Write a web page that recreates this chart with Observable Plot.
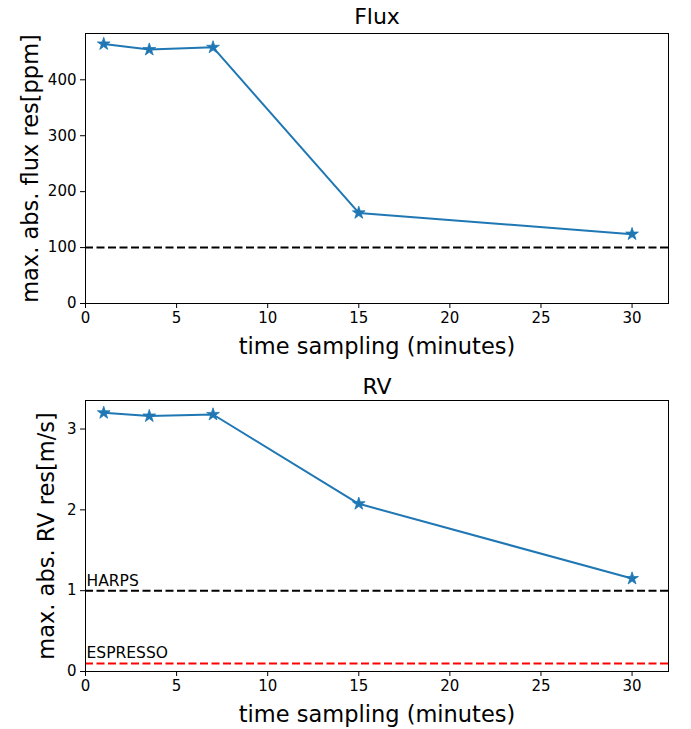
<!DOCTYPE html>
<html>
<head>
<meta charset="utf-8">
<script src="https://cdn.jsdelivr.net/npm/d3@7"></script>
<script src="https://cdn.jsdelivr.net/npm/@observablehq/plot@0.6"></script>
<style>
  body { margin: 0; background: white; }
  #chart svg { display: block; overflow: visible; }
</style>
</head>
<body>
<div id="chart"></div>
<script>
const times = [1, 3.5, 7, 15, 30];
const fluxRes = [464, 454, 458, 162, 124];
const rvRes = [3.20, 3.16, 3.18, 2.075, 1.15];
const fluxLimit = 100;
const instrumentNames = ["HARPS", "ESPRESSO"];
const instrumentLimits = [1, 0.1];
const xTicks = [0, 5, 10, 15, 20, 25, 30];
const fluxTicks = [0, 100, 200, 300, 400];
const rvTicks = [0, 1, 2, 3];

const fluxData = times.map((t, i) => ({t, v: fluxRes[i]}));
const rvData = times.map((t, i) => ({t, v: rvRes[i]}));
const instData = instrumentNames.map((n, i) => ({name: n, v: instrumentLimits[i]}));

const blue = "#1f77b4";
const font = "DejaVu Sans, sans-serif";

function panel({title, data, yDomain, yTicks, yLabel, ylabelDx, rules, marginTop, marginBottom, height, titleDy}) {
  return Plot.plot({
    width: 691,
    height,
    marginLeft: 85,
    marginRight: 23,
    marginTop,
    marginBottom,
    style: {fontFamily: font, color: "black", background: "white"},
    x: {domain: [0, 32]},
    y: {domain: yDomain},
    marks: [
      ...rules,
      Plot.line(data, {x: "t", y: "v", stroke: blue, strokeWidth: 2}),
      Plot.dot(data, {x: "t", y: "v", symbol: "star", r: 4, fill: blue, stroke: blue, strokeWidth: 0.8}),
      Plot.frame({stroke: "black", strokeWidth: 1}),
      Plot.axisX({ticks: xTicks, tickSize: 5, tickPadding: 4, fontSize: 15, label: null, tickFormat: d => String(d)}),
      Plot.axisY({ticks: yTicks, tickSize: 5, tickPadding: 4, fontSize: 15, label: null, tickFormat: d => String(d)}),
      Plot.text([title], {frameAnchor: "top", dy: titleDy, text: d => d, fontSize: 22, lineAnchor: "middle"}),
      Plot.text(["time sampling (minutes)"], {frameAnchor: "bottom", dy: 43, text: d => d, fontSize: 22.5, lineAnchor: "middle"}),
      Plot.text([yLabel], {frameAnchor: "left", dx: ylabelDx, rotate: -90, textAnchor: "middle", text: d => d, fontSize: 22.5, lineAnchor: "middle"})
    ]
  });
}

const fluxPanel = panel({
  title: "Flux",
  data: fluxData,
  yDomain: [0, 482.8],
  yTicks: fluxTicks,
  yLabel: "max. abs. flux res[ppm]",
  ylabelDx: -55,
  rules: [Plot.ruleY([fluxLimit], {stroke: "black", strokeWidth: 2, strokeDasharray: "8,3.5"})],
  marginTop: 33,
  marginBottom: 62,
  height: 365,
  titleDy: -17
});

const rvPanel = panel({
  title: "RV",
  data: rvData,
  yDomain: [0, 3.353],
  yTicks: rvTicks,
  yLabel: "max. abs. RV res[m/s]",
  ylabelDx: -39,
  rules: [
    Plot.ruleY(instData, {y: "v", stroke: (d, i) => i === 0 ? "black" : "red", strokeWidth: 2, strokeDasharray: "8,3.5"}),
    Plot.text(instData, {x: () => 0, y: "v", text: "name", textAnchor: "start", lineAnchor: "bottom", dy: -5, dx: 1, fontSize: 15.5, fill: "black"})
  ],
  marginTop: 35,
  marginBottom: 58,
  height: 364,
  titleDy: -14
});

document.getElementById("chart").append(fluxPanel, rvPanel);
</script>
</body>
</html>
